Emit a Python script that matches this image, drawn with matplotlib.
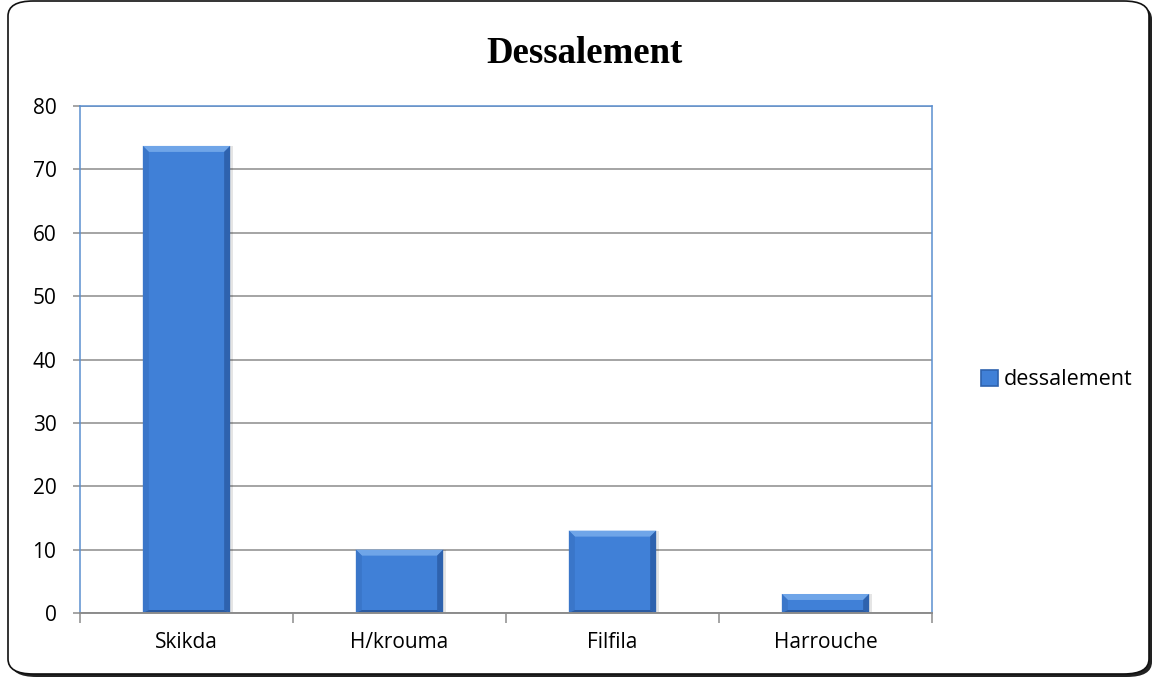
import matplotlib
matplotlib.use('Agg')
import matplotlib.pyplot as plt
from matplotlib.patches import Polygon, Rectangle, FancyBboxPatch
import numpy as np

plt.rcParams['font.family'] = ['Open Sans', 'DejaVu Sans']

categories = ['Skikda', 'H/krouma', 'Filfila', 'Harrouche']
values = [73.7, 10, 13, 3]
series_name = 'dessalement'
title = 'Dessalement'
yticks = [0, 10, 20, 30, 40, 50, 60, 70, 80]

face = '#4080d7'
top_c = '#6fa5e8'
left_c = '#3a76c9'
right_c = '#2e62ae'
bottom_c = '#2b5ba2'
frame_blue = '#5b8fd0'
grid_grey = '#8c8c8c'

W, H = 1155, 682
fig = plt.figure(figsize=(W / 100, H / 100), dpi=100)

# rounded outer frame with a drop shadow on the bottom-right
shadow = FancyBboxPatch((11 / W, 5 / H), 1141 / W, 673 / H,
                        boxstyle='round,pad=0,rounding_size=0.022',
                        transform=fig.transFigure, facecolor='#222222',
                        edgecolor='none', zorder=0)
frame = FancyBboxPatch((8 / W, 8 / H), 1141 / W, 673 / H,
                       boxstyle='round,pad=0,rounding_size=0.022',
                       transform=fig.transFigure, facecolor='white',
                       edgecolor='#111111', linewidth=1.2, zorder=1)
fig.patches.extend([shadow, frame])

ax = fig.add_axes([80 / W, 1 - 613 / H, (932 - 80) / W, (613 - 106) / H])
ax.set_zorder(2)
ax.set_facecolor('none')

x = np.arange(len(categories))
bw = 0.41
ax.set_xlim(-0.5, len(categories) - 0.5)
ax.set_ylim(0, 80)

# bars with a bevelled look (bevel sizes in pixels converted to data units)
ax_w = (932 - 80)
ax_h = (613 - 106)
bx = 6 * len(categories) / ax_w
by = 6 * 80 / ax_h
for xi, v in zip(x, values):
    x0, x1 = xi - bw / 2, xi + bw / 2
    y0, y1 = 0, v
    ax.add_patch(Rectangle((x0 + bx * 0.5, y0), bw, v,
                           facecolor='#000000', alpha=0.10, edgecolor='none', zorder=3))
    ax.bar(xi, v, width=bw, color=face, edgecolor='none', zorder=4)
    b = min(by, v / 2)
    bb = min(by * 0.5, v / 4)
    polys = [
        ([(x0, y1), (x1, y1), (x1 - bx, y1 - b), (x0 + bx, y1 - b)], top_c),
        ([(x0, y0), (x0, y1), (x0 + bx, y1 - b), (x0 + bx, y0 + bb)], left_c),
        ([(x1, y0), (x1, y1), (x1 - bx, y1 - b), (x1 - bx, y0 + bb)], right_c),
        ([(x0, y0), (x1, y0), (x1 - bx, y0 + bb), (x0 + bx, y0 + bb)], bottom_c),
    ]
    for pts, c in polys:
        ax.add_patch(Polygon(pts, closed=True, facecolor=c, edgecolor='none', zorder=5))

ax.set_yticks(yticks)
ax.yaxis.grid(True, color=grid_grey, linewidth=1.1, zorder=1)
ax.set_axisbelow(True)
for side in ['top', 'left', 'right']:
    ax.spines[side].set_color(frame_blue)
    ax.spines[side].set_linewidth(1.1)
ax.spines['bottom'].set_color(grid_grey)
ax.spines['bottom'].set_linewidth(1.4)
ax.spines['bottom'].set_zorder(6)

ax.tick_params(axis='y', length=5, width=1.1, color=grid_grey, pad=12,
               labelsize=15, labelcolor='black')
ax.set_xticks(x)
ax.set_xticklabels(categories)
ax.set_xticks(np.arange(len(categories) + 1) - 0.5, minor=True)
ax.tick_params(axis='x', which='major', length=0, pad=14, labelsize=15)
ax.tick_params(axis='x', which='minor', length=7, width=1.1, color=grid_grey)

fig.text(584 / W, 1 - 63 / H, title, ha='center', va='baseline',
         fontsize=26.5, fontweight='bold', family=['Liberation Serif', 'DejaVu Serif'])

handle = Rectangle((0, 0), 1, 1, facecolor=face, edgecolor=right_c, linewidth=1.2)
fig.legend([handle], [series_name], loc='center left',
           bbox_to_anchor=(962 / W, 1 - 380 / H), frameon=False,
           fontsize=15.5, handlelength=0.75, handleheight=0.75, handletextpad=0.3)

fig.savefig('out.png', dpi=100)
